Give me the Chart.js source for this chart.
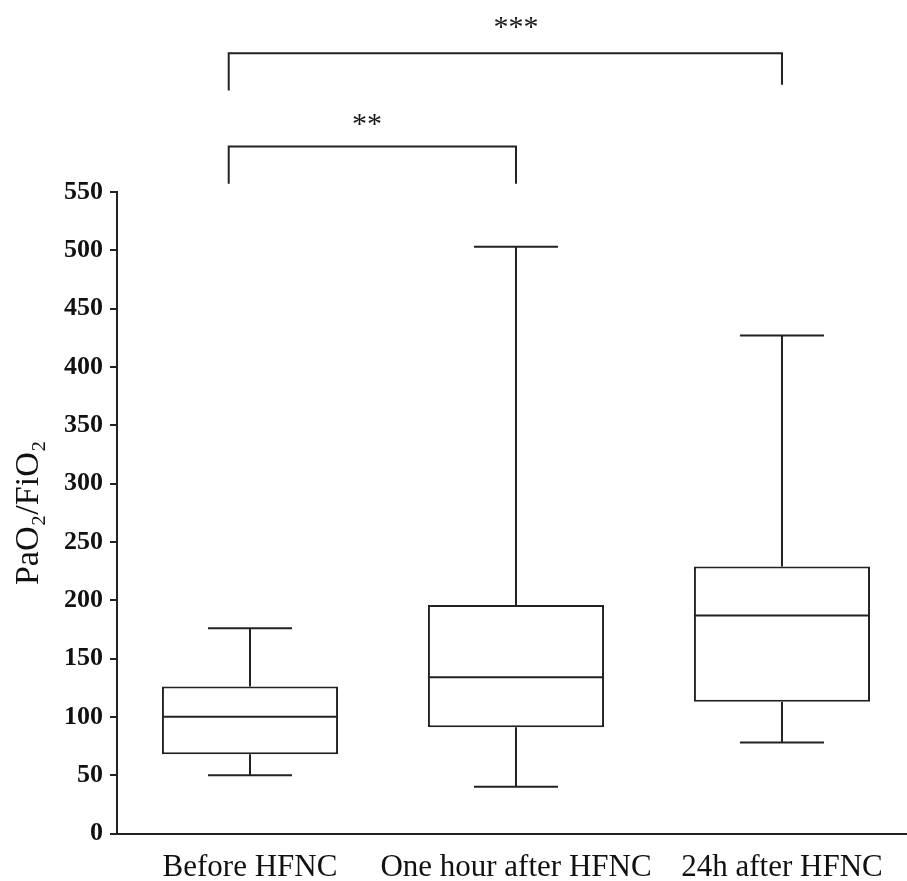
<!DOCTYPE html>
<html>
<head>
<meta charset="utf-8">
<script src="https://cdn.jsdelivr.net/npm/chart.js@4.4.1/dist/chart.umd.min.js"></script>
<style>
  html, body { margin: 0; padding: 0; background: #ffffff; }
  #wrap { width: 907px; height: 881px; position: relative; }
</style>
</head>
<body>
<div id="wrap"><canvas id="chart-box"></canvas></div>
<script>
// Box plot values (PaO2/FiO2)
const categories = ['Before HFNC', 'One hour after HFNC', '24h after HFNC'];
const whiskerLow = [50, 40, 78];
const quartile1 = [68, 91, 113];
const medians = [100, 134, 187];
const quartile3 = [126, 196, 229];
const whiskerHigh = [176, 503, 427];

// Significance brackets above the plot
const bracketLabels = ['***', '**'];
const bracketStart = [0.92, 0.92];
const bracketEnd = [3, 2];
const bracketLevel = [669, 589];
const bracketLegLeft = [637, 557];
const bracketLegRight = [642, 557];
const bracketTextX = [2.0, 1.44];
const bracketTextY = [696, 613];

const FONT = "'Liberation Serif', 'Times New Roman', serif";
const INK = '#222222';

const positions = categories.map((c, i) => i + 1);

// Medians, whiskers, caps and brackets, drawn with the chart's scales
const boxExtras = {
  id: 'boxExtras',
  afterDatasetsDraw(chart) {
    const { ctx, scales: { x, y } } = chart;
    const capHalf = 0.158;
    const boxHalf = 0.331;
    ctx.save();
    ctx.strokeStyle = INK;
    ctx.lineWidth = 2;
    positions.forEach((p, i) => {
      const cx = x.getPixelForValue(p);
      ctx.beginPath();
      // median
      ctx.moveTo(x.getPixelForValue(p - boxHalf), y.getPixelForValue(medians[i]));
      ctx.lineTo(x.getPixelForValue(p + boxHalf), y.getPixelForValue(medians[i]));
      // upper whisker
      ctx.moveTo(cx, y.getPixelForValue(quartile3[i]));
      ctx.lineTo(cx, y.getPixelForValue(whiskerHigh[i]));
      ctx.moveTo(x.getPixelForValue(p - capHalf), y.getPixelForValue(whiskerHigh[i]));
      ctx.lineTo(x.getPixelForValue(p + capHalf), y.getPixelForValue(whiskerHigh[i]));
      // lower whisker
      ctx.moveTo(cx, y.getPixelForValue(quartile1[i]));
      ctx.lineTo(cx, y.getPixelForValue(whiskerLow[i]));
      ctx.moveTo(x.getPixelForValue(p - capHalf), y.getPixelForValue(whiskerLow[i]));
      ctx.lineTo(x.getPixelForValue(p + capHalf), y.getPixelForValue(whiskerLow[i]));
      ctx.stroke();
    });
    ctx.restore();
  },
  afterDraw(chart) {
    const { ctx, scales: { x, y } } = chart;
    ctx.save();
    ctx.strokeStyle = INK;
    ctx.lineWidth = 2;
    bracketLabels.forEach((label, i) => {
      const x0 = x.getPixelForValue(bracketStart[i]);
      const x1 = x.getPixelForValue(bracketEnd[i]);
      const yl = y.getPixelForValue(bracketLevel[i]);
      ctx.beginPath();
      ctx.moveTo(x0, y.getPixelForValue(bracketLegLeft[i]));
      ctx.lineTo(x0, yl);
      ctx.lineTo(x1, yl);
      ctx.lineTo(x1, y.getPixelForValue(bracketLegRight[i]));
      ctx.stroke();

      ctx.fillStyle = '#1a1a1a';
      ctx.font = '30px ' + FONT;
      ctx.textAlign = 'center';
      ctx.textBaseline = 'alphabetic';
      // asterisks sit high in the em box, so drop the baseline a bit
      ctx.fillText(label, x.getPixelForValue(bracketTextX[i]), y.getPixelForValue(bracketTextY[i]) + 14);
    });
    ctx.restore();
  }
};

new Chart(document.getElementById('chart-box'), {
  type: 'bar',
  data: {
    datasets: [{
      label: 'Q1-Q3',
      data: positions.map((p, i) => ({ x: p, y: [quartile1[i], quartile3[i]] })),
      backgroundColor: '#ffffff',
      borderColor: INK,
      borderWidth: 2,
      borderSkipped: false,
      barPercentage: 0.662,
      categoryPercentage: 1
    }]
  },
  options: {
    responsive: true,
    maintainAspectRatio: false,
    animation: false,
    layout: { padding: { top: 192, right: 0, left: 0, bottom: 0 } },
    plugins: {
      legend: { display: false },
      tooltip: { enabled: false }
    },
    scales: {
      x: {
        type: 'linear',
        offset: false,
        min: 0.5,
        max: 3.47,
        afterBuildTicks(axis) {
          axis.ticks = positions.map(v => ({ value: v }));
        },
        afterFit(axis) {
          axis.height = 47.5;
        },
        ticks: {
          autoSkip: false,
          maxRotation: 0,
          padding: 16,
          color: '#111',
          font: { family: FONT, size: 31 },
          callback: (value) => categories[value - 1]
        },
        grid: { display: false, drawTicks: false, offset: false },
        border: { display: true, color: INK, width: 2 }
      },
      y: {
        min: 0,
        max: 550,
        afterFit(axis) {
          axis.width = 117;
        },
        ticks: {
          stepSize: 50,
          padding: 7,
          color: '#111',
          font: { family: FONT, size: 26, weight: 'bold' }
        },
        grid: {
          drawOnChartArea: false,
          drawTicks: true,
          tickLength: 7,
          color: INK,
          lineWidth: 2
        },
        border: { display: true, color: INK, width: 2 },
        title: {
          display: true,
          text: 'PaO₂/FiO₂',
          color: '#111',
          font: { family: FONT, size: 34 },
          padding: { top: 9, bottom: 0 }
        }
      }
    }
  },
  plugins: [boxExtras]
});
</script>
</body>
</html>
